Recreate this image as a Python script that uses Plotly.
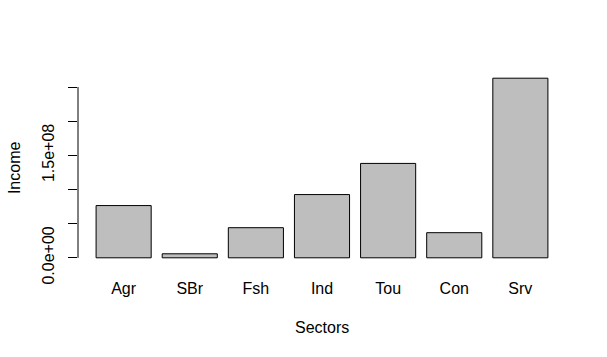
import plotly.graph_objects as go

sectors = ["Agr", "SBr", "Fsh", "Ind", "Tou", "Con", "Srv"]
income = [7.65e7, 5.9e6, 4.41e7, 9.26e7, 1.382e8, 3.68e7, 2.63e8]
ytick_vals = [0, 5e7, 1e8, 1.5e8, 2e8, 2.5e8]
ytick_text = ["0.0e+00", "", "", "1.5e+08", "", ""]

font = dict(family="Liberation Sans, Arial, sans-serif", size=16, color="black")

fig = go.Figure()
fig.add_trace(go.Bar(
    x=sectors, y=income,
    marker=dict(color="#BEBEBE", line=dict(color="black", width=1)),
    width=0.8333,
))

ymax = max(income)
fig.update_layout(
    width=607, height=357,
    margin=dict(l=78, r=41, t=71, b=92, pad=0),
    plot_bgcolor="white", paper_bgcolor="white",
    showlegend=False,
    font=font,
    xaxis=dict(
        range=[-0.69, 6.69], showgrid=False, zeroline=False, showline=False,
        ticks="", tickfont=font, ticklabelstandoff=12,
    ),
    yaxis=dict(
        range=[-0.04 * ymax, 1.04 * ymax], showgrid=False, zeroline=False,
        showline=False, ticks="outside", ticklen=9, tickcolor="black", tickwidth=1,
        tickvals=ytick_vals, ticktext=ytick_text, tickangle=-90,
        tickfont=font, ticklabelstandoff=8,
    ),
    shapes=[dict(type="line", xref="paper", yref="y", x0=0, x1=0,
                 y0=ytick_vals[0], y1=ytick_vals[-1],
                 line=dict(color="black", width=1))],
    annotations=[
        dict(text="Sectors", xref="paper", yref="paper", x=0.5, y=-0.32,
             xanchor="center", yanchor="middle", showarrow=False, font=font),
        dict(text="Income", xref="paper", yref="paper", x=-0.131, y=0.5,
             xanchor="center", yanchor="middle", showarrow=False, font=font,
             textangle=-90),
    ],
)

fig.write_html(
    "out.html",
    config={"displayModeBar": False},
    post_script="document.body.style.margin='0';document.body.style.overflow='hidden';",
)
